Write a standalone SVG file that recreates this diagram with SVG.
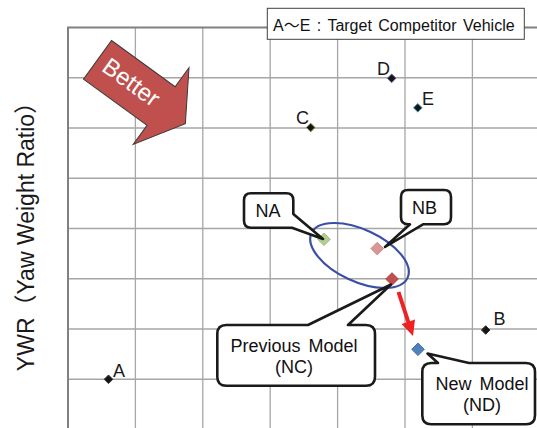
<svg xmlns="http://www.w3.org/2000/svg" width="537" height="428" viewBox="0 0 537 428">
<style>
.grid{stroke:#a6a6a6;stroke-width:1.3;fill:none}
.border{stroke:#808080;stroke-width:2;fill:none}
.lbl{font-family:"Liberation Sans","Noto Sans CJK JP",sans-serif;font-size:18px;fill:#1a1a1a}
.call{fill:#fff;stroke:#1a1a1a;stroke-width:2.6;stroke-linejoin:round}
.ctxt{font-family:"Liberation Sans",sans-serif;font-size:18px;fill:#111;text-anchor:middle;word-spacing:3px}
.pt{fill:#151515;stroke-width:1}
</style>
<defs>
<path id="dmS" d="M0,-4.3 L4.3,0 L0,4.3 L-4.3,0Z"/>
<path id="dmL" d="M0,-6.3 L6.3,0 L0,6.3 L-6.3,0Z"/>
</defs>
<rect width="537" height="428" fill="#fff"/>
<g id="grid">
<path class="grid" d="M135.4,27.5V428M202.8,27.5V428M270.2,27.5V428M337.6,27.5V428M405,27.5V428M472.4,27.5V428M68,77.75H537M68,128H537M68,178.25H537M68,228.5H537M68,278.75H537M68,329H537M68,379.25H537"/>
<path class="border" d="M68,428V27.5H537"/>
</g>
<text class="lbl" style="font-size:23px" transform="translate(34.3,231) rotate(-90)" text-anchor="middle">YWR（Yaw Weight Ratio）</text>
<g id="better" transform="translate(97.5,59.8) rotate(36)">
<path d="M0,-23.85H78.6V-47.5L108.6,0L78.6,47.5V23.85H0Z" fill="#c0504d" stroke="#3a3a3a" stroke-width="1"/>
<text x="40.5" y="6.5" font-family="Liberation Sans, sans-serif" font-size="24" fill="#fff" text-anchor="middle">Better</text>
</g>
<g id="pointA"><use href="#dmS" x="108.5" y="379.3" class="pt" stroke="#333"/><text class="lbl" x="113" y="376.5">A</text></g>
<g id="pointB"><use href="#dmS" x="485.7" y="330" class="pt" stroke="#333"/><text class="lbl" x="493.5" y="324.5">B</text></g>
<g id="pointC"><use href="#dmS" x="310.7" y="127.5" class="pt" stroke="#7d8a3a"/><text class="lbl" x="296" y="124.3">C</text></g>
<g id="pointD"><use href="#dmS" x="391.7" y="78.3" class="pt" stroke="#6d5a92"/><text class="lbl" x="377" y="75">D</text></g>
<g id="pointE"><use href="#dmS" x="417.8" y="107.8" class="pt" stroke="#3a9ab0"/><text class="lbl" x="422" y="105">E</text></g>
<g id="NA-point"><use href="#dmL" x="324" y="239.3" fill="#b3cd92" stroke="#9fbf7a"/></g>
<g id="NB-point"><use href="#dmL" x="377.2" y="248.6" fill="#d99694" stroke="#d08a88"/></g>
<g id="NC-point"><use href="#dmL" x="392" y="279" fill="#c0504d" stroke="#a94643"/></g>
<g id="ND-point"><use href="#dmL" x="418" y="349.3" fill="#4f81bd" stroke="#44719f"/></g>
<g id="group-ellipse"><ellipse cx="359.5" cy="255.5" rx="53" ry="26" transform="rotate(25 359.5 255.5)" fill="none" stroke="#3b4ea6" stroke-width="2.2"/></g>
<g id="callout-NA">
<path class="call" d="M251,193.3H286.3Q293.3,193.3 293.3,200.3V214L323,239L292,227.7H251Q244,227.7 244,220.7V200.3Q244,193.3 251,193.3Z"/>
<text class="ctxt" x="268" y="216.7">NA</text>
</g>
<g id="callout-NB">
<path class="call" d="M408,190H444Q451,190 451,197V217.3Q451,224.3 444,224.3H423L385,247L410,224.3H408Q401,224.3 401,217.3V197Q401,190 408,190Z"/>
<text class="ctxt" x="424.5" y="214.3">NB</text>
</g>
<g id="callout-NC">
<path class="call" d="M226.3,325H308L391,284.5L348,325H366Q375,325 375,334V376.7Q375,385.7 366,385.7H226.3Q217.3,385.7 217.3,376.7V334Q217.3,325 226.3,325Z"/>
<text class="ctxt" x="294" y="351.7">Previous Model</text>
<text class="ctxt" x="294" y="373.3">(NC)</text>
</g>
<g id="callout-ND">
<path class="call" d="M431.3,363H438L427.5,353.5L469,363H526Q535,363 535,372V415.3Q535,424.3 526,424.3H431.3Q422.3,424.3 422.3,415.3V372Q422.3,363 431.3,363Z"/>
<text class="ctxt" x="482" y="390">New Model</text>
<text class="ctxt" x="482" y="410.7">(ND)</text>
</g>
<g id="connectors">
<line x1="398.5" y1="292" x2="408.8" y2="323.5" stroke="#ee2222" stroke-width="4"/>
<polygon points="413,336 401.6,323.9 415,319.6" fill="#ee2222"/>
</g>
<g id="legend">
<rect x="267.3" y="8.3" width="257" height="31" fill="#fff" stroke="#404040" stroke-width="1"/>
<text x="273" y="31" font-family="Liberation Sans, Noto Sans CJK JP, sans-serif" font-size="16" fill="#111" word-spacing="2">A～E : Target Competitor Vehicle</text>
</g>
</svg>
